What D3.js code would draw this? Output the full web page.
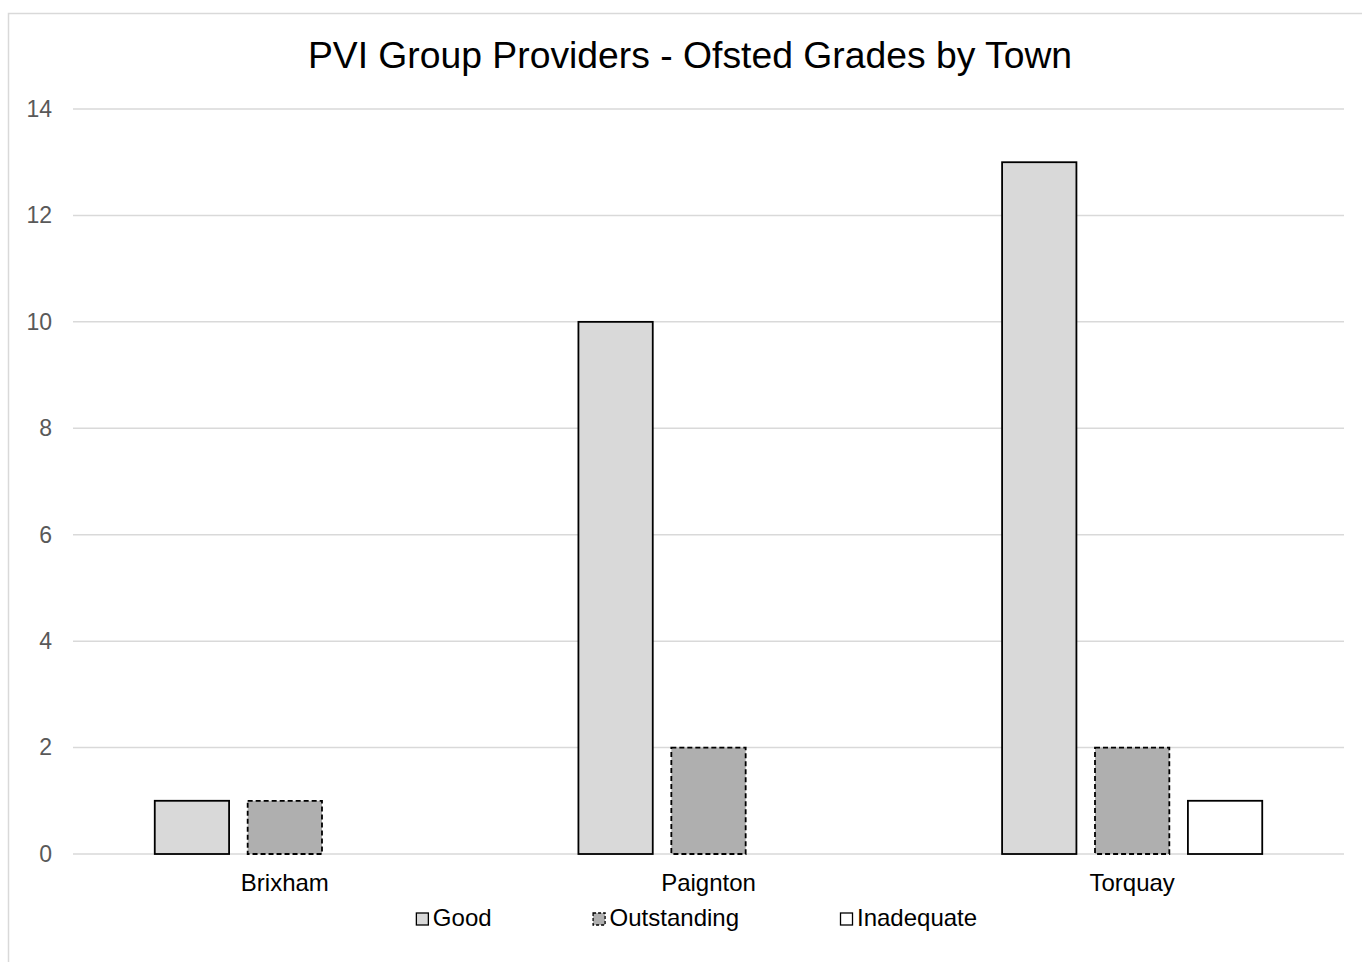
<!DOCTYPE html>
<html>
<head>
<meta charset="utf-8">
<script src="https://cdn.jsdelivr.net/npm/d3@7"></script>
<style>
  body { margin: 0; background: #fff; }
  svg { display: block; font-family: "Liberation Sans", Arial, sans-serif; }
</style>
</head>
<body>
<svg id="chart" width="1362" height="962"></svg>
<script>
// data
const towns = ['Brixham', 'Paignton', 'Torquay'];
const grades = ['Good', 'Outstanding', 'Inadequate'];
const good = [1, 10, 13];
const outstanding = [1, 2, 2];
const inadequate = [0, 0, 1];
const yTicks = [0, 2, 4, 6, 8, 10, 12, 14];

const seriesValues = { Good: good, Outstanding: outstanding, Inadequate: inadequate };
const styles = {
  Good: { fill: '#d9d9d9', dash: null },
  Outstanding: { fill: '#afafaf', dash: '5,3' },
  Inadequate: { fill: '#ffffff', dash: null }
};

const chartW = 1362, chartH = 962;
const plotLeft = 73, plotRight = 1344, plotTop = 109, plotBottom = 854;

const svg = d3.select('#chart');

svg.append('rect')
  .attr('width', chartW).attr('height', chartH).attr('fill', '#fff');

// chart outline
svg.append('rect')
  .attr('x', 8.5).attr('y', 13.5)
  .attr('width', chartW).attr('height', chartH)
  .attr('fill', 'none').attr('stroke', '#d9d9d9').attr('stroke-width', 1.5);

// title
svg.append('text')
  .attr('x', 690).attr('y', 68)
  .attr('text-anchor', 'middle')
  .attr('font-size', 37.3)
  .attr('fill', '#000')
  .text('PVI Group Providers - Ofsted Grades by Town');

const yScale = d3.scaleLinear().domain([0, 14]).range([plotBottom, plotTop]);
const x0 = d3.scaleBand().domain(towns).range([plotLeft, plotRight]);
const x1 = d3.scaleBand().domain(grades).range([0, x0.bandwidth()])
  .paddingInner(0.2).paddingOuter(0.88);

// gridlines
svg.append('g')
  .selectAll('line')
  .data(yTicks)
  .enter()
  .append('line')
  .attr('x1', plotLeft).attr('x2', plotRight)
  .attr('y1', d => yScale(d)).attr('y2', d => yScale(d))
  .attr('stroke', '#d9d9d9').attr('stroke-width', 1.5);

// y axis labels
const yAxis = svg.append('g')
  .attr('transform', `translate(${plotLeft - 21},0)`)
  .call(d3.axisLeft(yScale).tickValues(yTicks).tickSize(0).tickPadding(0));
yAxis.select('.domain').remove();
yAxis.selectAll('text')
  .attr('font-size', 23)
  .attr('font-family', '"Liberation Sans", Arial, sans-serif')
  .attr('fill', '#595959');

// bars
const groups = svg.append('g')
  .selectAll('g')
  .data(towns)
  .enter()
  .append('g')
  .attr('transform', d => `translate(${x0(d)},0)`);

groups.selectAll('rect')
  .data((t, i) => grades.map(g => ({ grade: g, value: seriesValues[g][i] })).filter(d => d.value > 0))
  .enter()
  .append('rect')
  .attr('x', d => x1(d.grade))
  .attr('y', d => yScale(d.value))
  .attr('width', x1.bandwidth())
  .attr('height', d => plotBottom - yScale(d.value))
  .attr('fill', d => styles[d.grade].fill)
  .attr('stroke', '#000')
  .attr('stroke-width', 1.8)
  .attr('stroke-dasharray', d => styles[d.grade].dash);

// category axis labels
const xAxis = svg.append('g')
  .attr('transform', `translate(0,${plotBottom + 20})`)
  .call(d3.axisBottom(x0).tickSize(0).tickPadding(0));
xAxis.select('.domain').remove();
xAxis.selectAll('text')
  .attr('font-size', 24)
  .attr('font-family', '"Liberation Sans", Arial, sans-serif')
  .attr('fill', '#000');

// legend
const legend = svg.append('g');
const items = legend.selectAll('g')
  .data(grades)
  .enter()
  .append('g');
items.append('rect')
  .attr('x', 0.5).attr('y', -13)
  .attr('width', 12).attr('height', 12)
  .attr('fill', d => styles[d].fill)
  .attr('stroke', '#000').attr('stroke-width', 1.3)
  .attr('stroke-dasharray', d => styles[d].dash ? '3,2' : null);
items.append('text')
  .attr('x', 17).attr('y', 0)
  .attr('font-size', 24)
  .attr('fill', '#000')
  .text(d => d);

let cursor = 0;
items.each(function () {
  const w = this.querySelector('text').getComputedTextLength();
  d3.select(this).attr('data-x', cursor);
  cursor += 17 + w + 101;
});
const legendWidth = cursor - 101;
const legendStart = 696.5 - legendWidth / 2;
items.attr('transform', function () {
  return `translate(${legendStart + +this.getAttribute('data-x')},926)`;
});
</script>
</body>
</html>
